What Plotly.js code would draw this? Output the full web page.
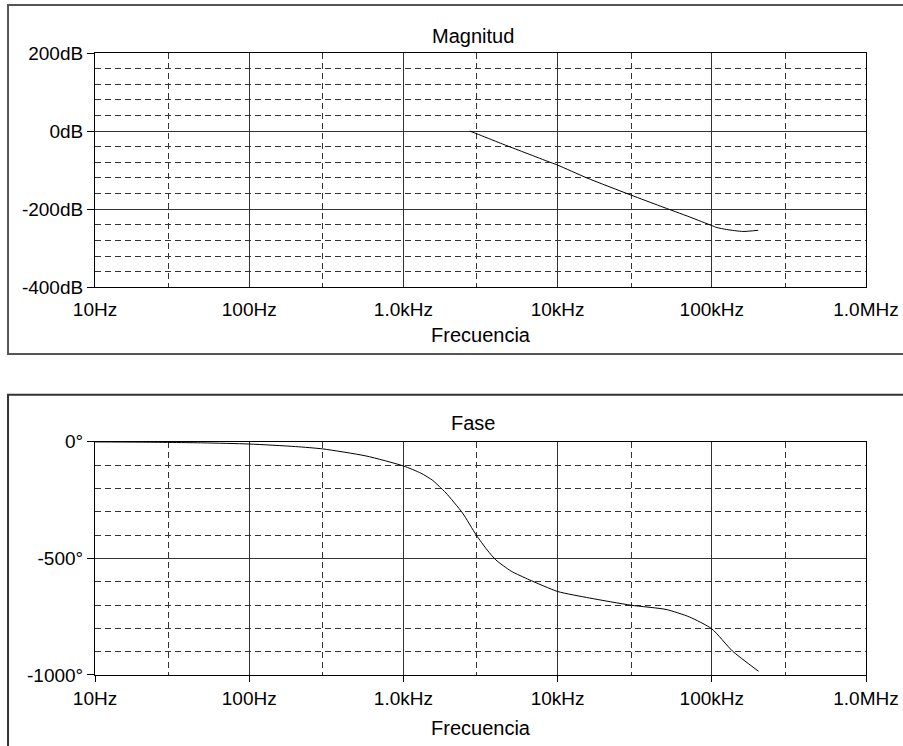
<!DOCTYPE html>
<html>
<head>
<meta charset="utf-8">
<script src="https://cdn.plot.ly/plotly-3.0.1.min.js"></script>
<style>html,body{margin:0;padding:0;background:#fff;}#chart{width:903px;height:746px;}</style>
</head>
<body>
<div id="chart"></div>
<script>
// Frequency tick values and labels
const freqTicks = [10, 100, 1000, 10000, 100000, 1000000];
const freqTickText = ['10Hz', '100Hz', '1.0kHz', '10kHz', '100kHz', '1.0MHz'];
const freqMinor = [30, 300, 3000, 30000, 300000];

// Magnitude panel
const magFreq = [2700, 3000, 4260, 6040, 8550, 10000, 15500, 30000, 46300, 72000, 100000, 108000, 125000, 159000, 200000];
const magDb   = [0, -7, -31, -54, -77, -87, -120, -164, -192, -220, -242, -247, -252, -257, -254];
const magTicks = [-400, -200, 0, 200];
const magTickText = ['-400dB', '-200dB', '0dB', '200dB'];
const magMinor = [-360, -320, -280, -240, -160, -120, -80, -40, 40, 80, 120, 160];

// Phase panel
const phaseFreq = [10, 20, 50, 100, 200, 300, 571, 1000, 1300, 1550, 1710, 1890, 2420, 2960, 3500, 3980, 5000, 6560, 10000, 16100, 30000, 50500, 71500, 100000, 136000, 201000];
const phaseDeg  = [-1, -2, -5, -10, -21, -31, -61, -104, -135, -166, -192, -220, -306, -399, -465, -507, -555, -592, -642, -670, -701, -719, -751, -802, -897, -984];
const phaseTicks = [-1000, -500, 0];
const phaseTickText = ['-1000°', '-500°', '0°'];
const phaseMinor = [-900, -800, -700, -600, -400, -300, -200, -100];

const FONT = 'Liberation Sans, Arial, sans-serif';
const gridCol = '#333';
const dash = '6px,4px';
const TICK = 19, TITLE = 20;

function xAxis(anchor, showTicks) {
  return {
    type: 'log', range: [1, 6], anchor: anchor,
    tickmode: 'array', tickvals: freqTicks, ticktext: freqTickText,
    showgrid: true, gridcolor: gridCol, gridwidth: 1,
    showline: true, mirror: true, linecolor: '#000', linewidth: 1,
    ticks: showTicks ? 'outside' : '', ticklen: 6, tickcolor: '#000',
    ticklabelstandoff: showTicks ? 0 : 5,
    zeroline: false,
    tickfont: {family: FONT, size: TICK, color: '#000'},
    title: {text: 'Frecuencia', font: {family: FONT, size: TITLE, color: '#000'}, standoff: showTicks ? 13 : 8},
    minor: {tickmode: 'array', tickvals: freqMinor, showgrid: true, gridcolor: gridCol, griddash: dash, gridwidth: 1, ticks: ''},
    fixedrange: true
  };
}
function yAxis(anchor, domain, range, tv, tt, minor) {
  return {
    anchor: anchor, domain: domain, range: range,
    tickmode: 'array', tickvals: tv, ticktext: tt,
    showgrid: true, gridcolor: gridCol, gridwidth: 1,
    showline: true, mirror: true, linecolor: '#000', linewidth: 1,
    ticks: 'outside', ticklen: 7, tickcolor: '#000',
    zeroline: false,
    tickfont: {family: FONT, size: TICK, color: '#000'},
    minor: {tickmode: 'array', tickvals: minor, showgrid: true, gridcolor: gridCol, griddash: dash, gridwidth: 1, ticks: ''},
    fixedrange: true
  };
}

const traces = [
  {x: magFreq, y: magDb, xaxis: 'x', yaxis: 'y', mode: 'lines', line: {color: '#000', width: 1, shape: 'spline', smoothing: 0.6}, hoverinfo: 'skip'},
  {x: phaseFreq, y: phaseDeg, xaxis: 'x2', yaxis: 'y2', mode: 'lines', line: {color: '#000', width: 1, shape: 'spline', smoothing: 0.6}, hoverinfo: 'skip'}
];

const topDom = [0.6233, 1];
const botDom = [0, 0.3751];

const layout = {
  width: 903, height: 746,
  margin: {l: 95, r: 37, t: 53, b: 71},
  paper_bgcolor: '#fff', plot_bgcolor: '#fff',
  showlegend: false,
  xaxis: xAxis('y', false),
  yaxis: yAxis('x', topDom, [-400, 200], magTicks, magTickText, magMinor),
  xaxis2: xAxis('y2', true),
  yaxis2: yAxis('x2', botDom, [-1000, 0], phaseTicks, phaseTickText, phaseMinor),
  annotations: [
    {text: 'Magnitud', xref: 'paper', yref: 'paper', x: 0.49, y: 1, xanchor: 'center', yanchor: 'bottom', yshift: 4, showarrow: false, font: {family: FONT, size: TITLE, color: '#000'}},
    {text: 'Fase', xref: 'paper', yref: 'paper', x: 0.49, y: botDom[1], xanchor: 'center', yanchor: 'bottom', yshift: 6, showarrow: false, font: {family: FONT, size: TITLE, color: '#000'}}
  ],
  shapes: [
    {type: 'rect', xref: 'paper', yref: 'paper', x0: -0.1128, x1: 1.2, y0: 0.516, y1: 1.0772, line: {color: '#555', width: 2}, fillcolor: 'rgba(0,0,0,0)', layer: 'below'},
    {type: 'rect', xref: 'paper', yref: 'paper', x0: -0.1128, x1: 1.2, y0: -0.3, y1: 0.4506, line: {color: '#333', width: 2}, fillcolor: 'rgba(0,0,0,0)', layer: 'below'}
  ]
};

Plotly.newPlot('chart', traces, layout, {staticPlot: true, displayModeBar: false});
</script>
</body>
</html>
